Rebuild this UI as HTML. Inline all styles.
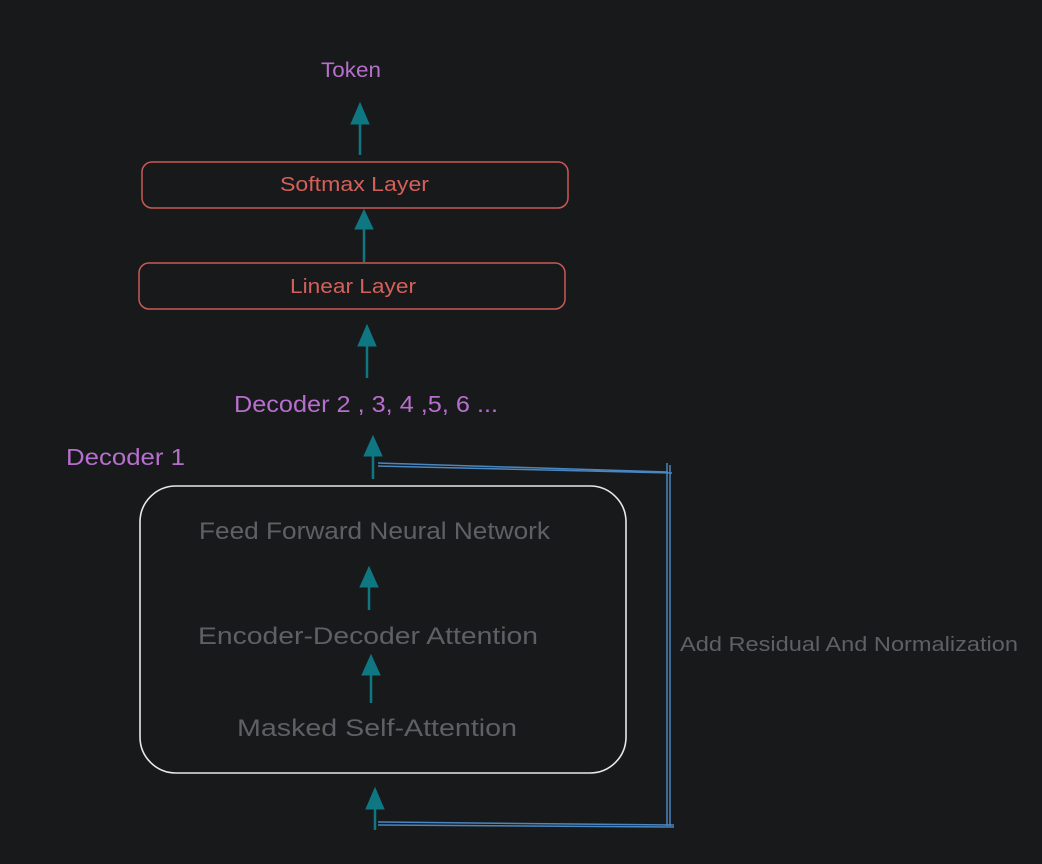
<!DOCTYPE html>
<html><head><style>
body{margin:0;background:#18191b;}
svg{display:block}
text{font-family:"Liberation Sans",sans-serif}
</style></head><body>
<svg width="1042" height="864" viewBox="0 0 1042 864">
<rect width="1042" height="864" fill="#18191b"/>
<g fill="#0e7782" stroke="#0e7782" stroke-width="2.5">
<line x1="360" y1="155" x2="360" y2="118"/><polygon points="351,124 369,124 360,103" stroke-width="1"/>
<line x1="364" y1="262" x2="364" y2="222"/><polygon points="355,229 373,229 364,210" stroke-width="1"/>
<line x1="367" y1="378" x2="367" y2="340"/><polygon points="358,346 376,346 367,325" stroke-width="1"/>
<line x1="373" y1="479" x2="373" y2="450"/><polygon points="364,456 382,456 373,436" stroke-width="1"/>
<line x1="369" y1="610" x2="369" y2="580"/><polygon points="360,587 378,587 369,567" stroke-width="1"/>
<line x1="371" y1="703" x2="371" y2="668"/><polygon points="362,675 380,675 371,655" stroke-width="1"/>
<line x1="375" y1="830" x2="375" y2="802"/><polygon points="366,809 384,809 375,788" stroke-width="1"/>
</g>
<g fill="none" stroke="#c95a55" stroke-width="1.5">
<rect x="142" y="162" width="426" height="46" rx="10"/>
<rect x="139" y="263" width="426" height="46" rx="10"/>
</g>
<rect x="140" y="486" width="486" height="287" rx="36" fill="none" stroke="#e8e8e8" stroke-width="1.6"/>
<g stroke="#4a86c0" stroke-width="1.5" fill="none">
<path d="M378 463 L668 472"/><path d="M378 466 L672 473"/>
<path d="M667 463 L667 826"/><path d="M670 465 L670 826"/>
<path d="M378 822 L674 825"/><path d="M378 825 L674 827"/>
</g>
<text x="321" y="77" font-size="21" fill="#b66fcc" textLength="60" lengthAdjust="spacingAndGlyphs">Token</text>
<g font-size="20" fill="#d4605a">
<text x="280" y="191" textLength="149" lengthAdjust="spacingAndGlyphs">Softmax Layer</text>
<text x="290" y="293" textLength="126" lengthAdjust="spacingAndGlyphs">Linear Layer</text>
</g>
<g font-size="23" fill="#b66fcc">
<text x="234" y="412" textLength="264" lengthAdjust="spacingAndGlyphs">Decoder 2 , 3, 4 ,5, 6 ...</text>
<text x="66" y="465" textLength="119" lengthAdjust="spacingAndGlyphs">Decoder 1</text>
</g>
<g font-size="24" fill="#5d6064">
<text x="199" y="539" textLength="351" lengthAdjust="spacingAndGlyphs">Feed Forward Neural Network</text>
<text x="198" y="644" textLength="340" lengthAdjust="spacingAndGlyphs">Encoder-Decoder Attention</text>
<text x="237" y="736" textLength="280" lengthAdjust="spacingAndGlyphs">Masked Self-Attention</text>
</g>
<text x="680" y="651" font-size="20" fill="#5d6064" textLength="338" lengthAdjust="spacingAndGlyphs">Add Residual And Normalization</text>
</svg>
</body></html>
